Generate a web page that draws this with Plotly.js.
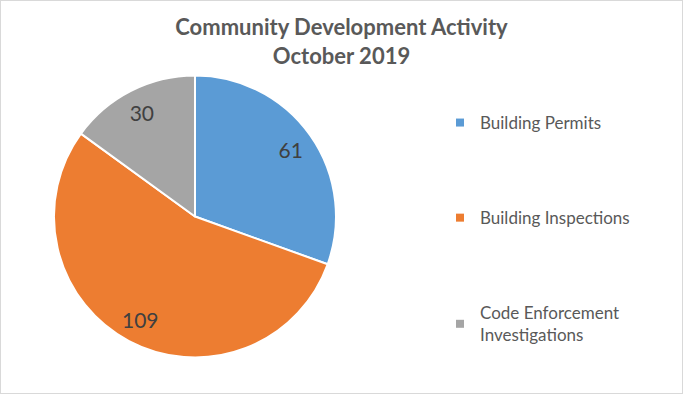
<!DOCTYPE html>
<html>
<head>
<meta charset="utf-8">
<script src="https://cdn.plot.ly/plotly-3.0.1.min.js"></script>
<style>
html,body{margin:0;padding:0;background:#fff;}
#chart{width:681px;height:392px;border:1px solid #d9d9d9;}
</style>
</head>
<body>
<div id="chart"></div>
<script>
const categories = ["Building Permits", "Building Inspections", "Code Enforcement Investigations"];
const legendNames = ["Building Permits", "Building Inspections", "Code Enforcement<br>Investigations"];
const values = [61, 109, 30];
const colors = ["#5B9BD5", "#ED7D31", "#A5A5A5"];
const titleText = "Community Development Activity<br>October 2019";

const FONT = "Lato, 'Open Sans', sans-serif";
const TXT = "#595959";
const DOMAIN = {x: [0.0778, 0.4919], y: [0.0906, 0.8100]};

// filled slices
const pie = {
  type: "pie",
  labels: categories,
  values: values,
  sort: false,
  direction: "clockwise",
  rotation: 0,
  marker: {colors: colors, line: {color: "#ffffff", width: 2}},
  textinfo: "none",
  showlegend: false,
  hoverinfo: "label+value+percent",
  domain: DOMAIN
};

// transparent ring carrying the data labels near the outer edge (Excel style)
const labelRing = {
  type: "pie",
  labels: categories,
  values: values,
  sort: false,
  direction: "clockwise",
  rotation: 0,
  hole: 0.66,
  marker: {colors: categories.map(() => "rgba(0,0,0,0)"), line: {width: 0}},
  textinfo: "value",
  textposition: "inside",
  insidetextorientation: "horizontal",
  textfont: {family: FONT, size: 21, color: "#404040"},
  showlegend: false,
  hoverinfo: "skip",
  domain: DOMAIN
};

const legendTraces = categories.map((c, i) => ({
  type: "scatter",
  mode: "markers",
  x: [null], y: [null],
  name: legendNames[i],
  legendgroup: "g" + i,
  marker: {symbol: "square", size: 8, color: colors[i]},
  showlegend: true,
  hoverinfo: "skip"
}));

const layout = {
  width: 681, height: 392,
  margin: {l: 0, r: 0, t: 0, b: 0},
  paper_bgcolor: "#ffffff",
  plot_bgcolor: "#ffffff",
  title: {
    text: "<b>" + titleText + "</b>",
    x: 0.5, xanchor: "center", xref: "paper",
    y: 1 - 34 / 392, yanchor: "top", yref: "container",
    font: {family: FONT, size: 22, color: TXT}
  },
  xaxis: {visible: false, range: [0, 1]},
  yaxis: {visible: false, range: [0, 1]},
  showlegend: true,
  legend: {
    x: 439 / 681, xanchor: "left",
    y: 1 - 104 / 392, yanchor: "top",
    font: {family: FONT, size: 17, color: TXT},
    tracegroupgap: 70,
    itemclick: false, itemdoubleclick: false,
    bgcolor: "rgba(0,0,0,0)"
  }
};

Plotly.newPlot("chart", [pie, labelRing].concat(legendTraces), layout, {displayModeBar: false, staticPlot: true});
</script>
</body>
</html>
